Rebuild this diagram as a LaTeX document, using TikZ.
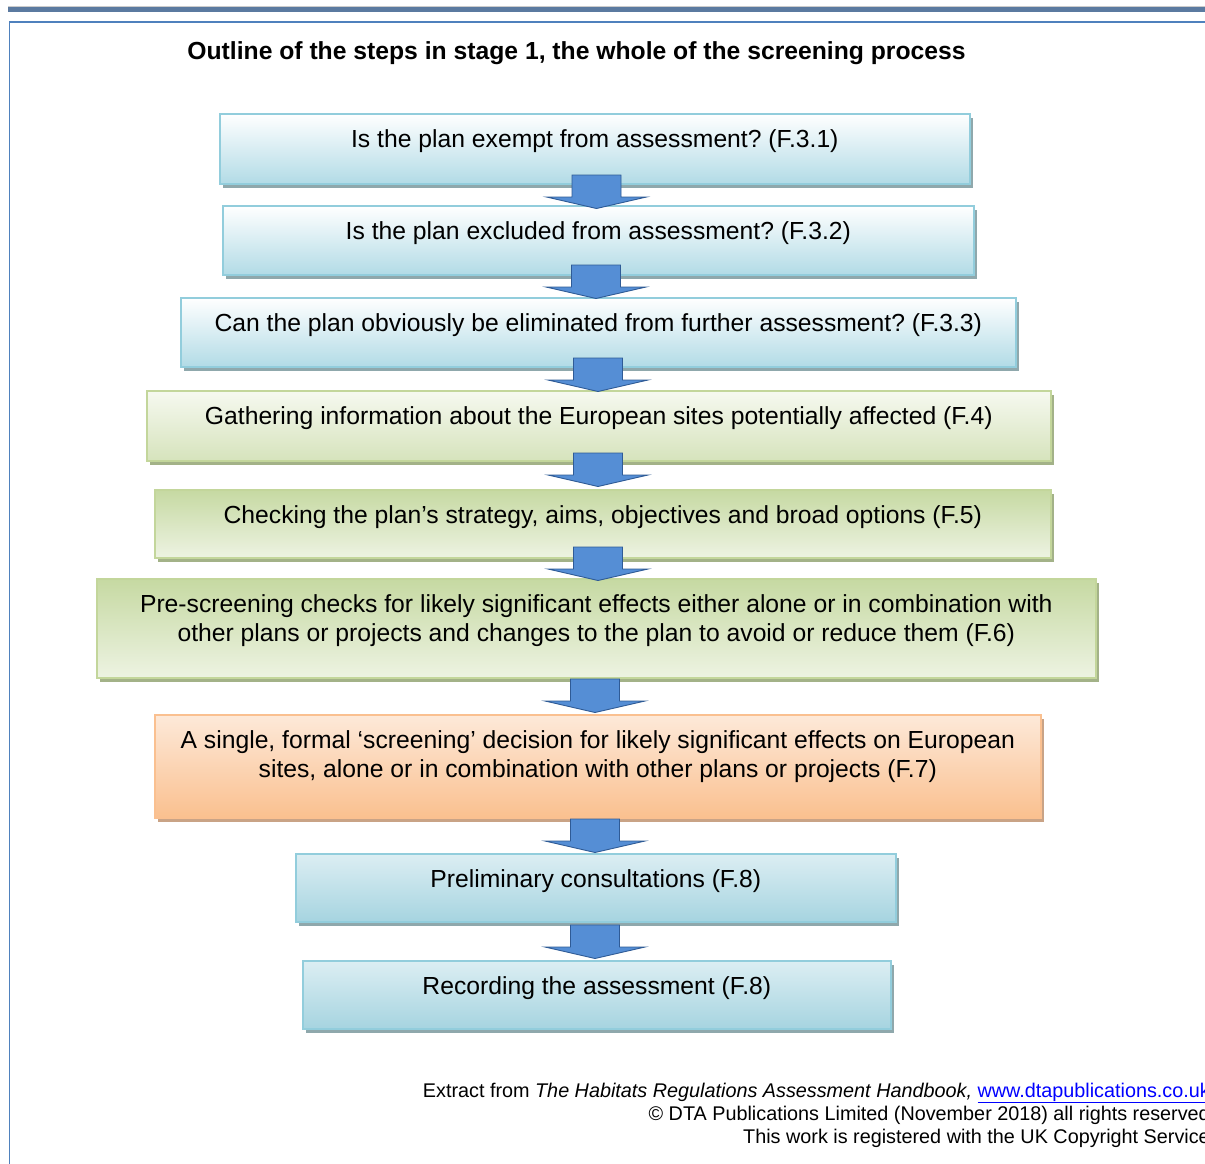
\documentclass[tikz,border=0pt]{standalone}
\usepackage{fontspec}
\setmainfont{Liberation Sans}
\usetikzlibrary{shadows}
\frenchspacing
\definecolor{barcol}{HTML}{5B7AA0}
\definecolor{framecol}{HTML}{4F81BD}
\definecolor{blueline}{HTML}{92CDDC}
\definecolor{bluebot}{HTML}{B2DBE6}
\definecolor{bluetop2}{HTML}{DCEEF3}
\definecolor{bluebot2}{HTML}{A6D4E0}
\definecolor{blueshadow}{HTML}{8FA8AC}
\definecolor{greenline}{HTML}{C3D69B}
\definecolor{greenlight}{HTML}{F6F9F0}
\definecolor{greendark}{HTML}{C6D9A2}
\definecolor{greenpale}{HTML}{EDF3E2}
\definecolor{greenmid}{HTML}{D6E3BC}
\definecolor{greenshadow}{HTML}{A3B288}
\definecolor{orangeline}{HTML}{FAC090}
\definecolor{orangetop}{HTML}{FDE9D9}
\definecolor{orangebot}{HTML}{FAC08F}
\definecolor{orangeshadow}{HTML}{C9A386}
\definecolor{arrowfill}{HTML}{558ED5}
\definecolor{arrowline}{HTML}{2F5B96}
\definecolor{linkblue}{HTML}{0000FF}
\tikzset{
  stepbox/.style={rectangle, line width=1.6pt, inner sep=0pt, anchor=north west},
  bluebox/.style={stepbox, draw=blueline, top color=white, bottom color=bluebot,
    general shadow={fill=blueshadow, shadow xshift=3.5pt, shadow yshift=-4pt}},
  bluebox2/.style={stepbox, draw=blueline, top color=bluetop2, bottom color=bluebot2,
    general shadow={fill=blueshadow, shadow xshift=3.5pt, shadow yshift=-4pt}},
  greenbox/.style={stepbox, draw=greenline, top color=greenlight, bottom color=greenmid,
    general shadow={fill=greenshadow, shadow xshift=3.5pt, shadow yshift=-4pt}},
  greenbox2/.style={stepbox, draw=greenline, top color=greendark, bottom color=greenpale,
    general shadow={fill=greenshadow, shadow xshift=3.5pt, shadow yshift=-4pt}},
  orangebox/.style={stepbox, draw=orangeline, top color=orangetop, bottom color=orangebot,
    general shadow={fill=orangeshadow, shadow xshift=3.5pt, shadow yshift=-4pt}},
  steptext/.style={font=\fontsize{24.7}{29}\selectfont, anchor=base, align=center, inner sep=0pt},
  arrowsty/.style={fill=arrowfill, draw=arrowline, line width=0.9pt, line join=miter},
  downarrow/.pic={\path[arrowsty] (-24.5,0) -- (24.5,0) -- (24.5,22) -- (50,22) -- (0,33.5) -- (-50,22) -- (-24.5,22) -- cycle;}
}
\begin{document}
\begin{tikzpicture}[x=1pt,y=-1pt]
\useasboundingbox (0,0) rectangle (1205,1164);
\clip (0,0) rectangle (1205,1164);
\fill[white] (0,0) rectangle (1205,1164);
% frame
\draw[black!20, line width=0.8pt] (8,6.8) -- (1205,6.8);
\fill[barcol] (8,7.5) rectangle (1205,12.5);
\draw[framecol, line width=1.6pt] (9.5,1164) -- (9.5,21.8) -- (1205,21.8);
% title
\node[font=\fontsize{24.7}{29}\selectfont\bfseries, anchor=base, inner sep=0pt] (title) at (576.5,59.5)
  {Outline of the steps in stage 1, the whole of the screening process};
% boxes
\node[bluebox, minimum width=750pt, minimum height=70pt] (b1) at (219,113) {};
\node[bluebox, minimum width=751pt, minimum height=69pt] (b2) at (222,205) {};
\node[bluebox, minimum width=835pt, minimum height=69pt] (b3) at (180,297) {};
\node[greenbox, minimum width=904pt, minimum height=70pt] (b4) at (146,390) {};
\node[greenbox2, minimum width=896pt, minimum height=68pt] (b5) at (154,489) {};
\node[greenbox2, minimum width=999pt, minimum height=99pt] (b6) at (96,578) {};
\node[orangebox, minimum width=886pt, minimum height=103pt] (b7) at (154,714) {};
\node[bluebox2, minimum width=600pt, minimum height=68pt] (b8) at (295,853) {};
\node[bluebox2, minimum width=588pt, minimum height=68pt] (b9) at (302,960) {};
% texts
\node[steptext] (t1) at ([yshift=-34pt]b1.north) {Is the plan exempt from assessment? (F.3.1)};
\node[steptext] (t2) at ([yshift=-34pt]b2.north) {Is the plan excluded from assessment? (F.3.2)};
\node[steptext] (t3) at ([yshift=-34pt]b3.north) {Can the plan obviously be eliminated from further assessment? (F.3.3)};
\node[steptext] (t4) at ([yshift=-34pt]b4.north) {Gathering information about the European sites potentially affected (F.4)};
\node[steptext] (t5) at ([yshift=-34pt]b5.north) {Checking the plan’s strategy, aims, objectives and broad options (F.5)};
\node[steptext] (t6) at ([yshift=-63pt]b6.north) {Pre-screening checks for likely significant effects either alone or in combination with\\other plans or projects and changes to the plan to avoid or reduce them (F.6)};
\node[steptext] (t7) at ([yshift=-63pt]b7.north) {A single, formal ‘screening’ decision for likely significant effects on European\\sites, alone or in combination with other plans or projects (F.7)};
\node[steptext] (t8) at ([yshift=-34pt]b8.north) {Preliminary consultations (F.8)};
\node[steptext] (t9) at ([yshift=-34pt]b9.north) {Recording the assessment (F.8)};
% arrows
\coordinate (a1) at (596.5,175);
\coordinate (a2) at (596,265);
\coordinate (a3) at (598,358);
\coordinate (a4) at (598,453);
\coordinate (a5) at (598,547);
\coordinate (a6) at (595,679);
\coordinate (a7) at (595,819);
\coordinate (a8) at (595,925);
\foreach \a in {a1,a2,a3,a4,a5,a6,a7,a8} { \pic at (\a) {downarrow}; }
% footer
\node[anchor=base east, align=right, inner sep=0pt, font=\fontsize{19.8}{23}\selectfont] (foot) at (1210,1143)
  {Extract from \textit{The Habitats Regulations Assessment Handbook,} \textcolor{linkblue}{\underline{www.dtapublications.co.uk}}\\
   © DTA Publications Limited (November 2018) all rights reserved\\
   This work is registered with the UK Copyright Service};
\end{tikzpicture}
\end{document}
